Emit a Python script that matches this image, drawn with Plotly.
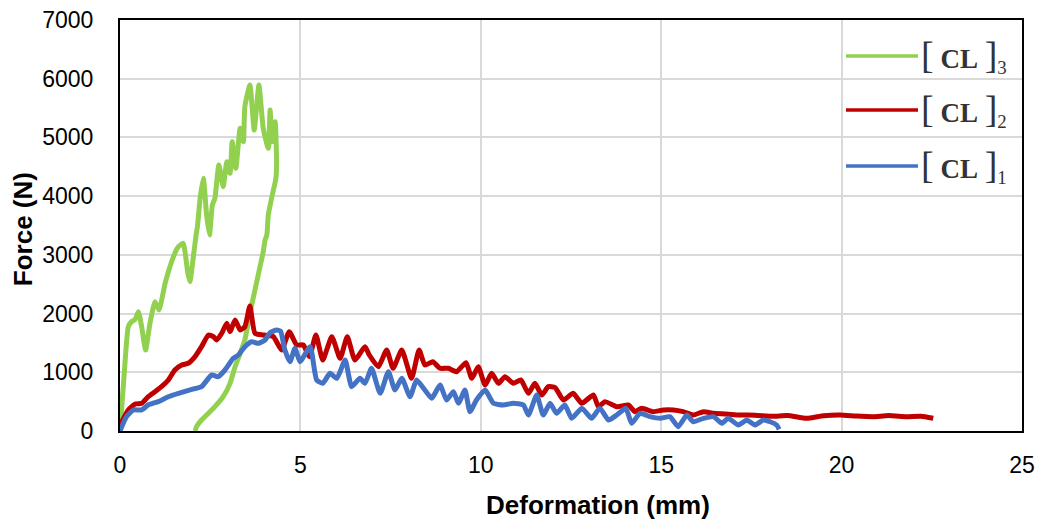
import plotly.graph_objects as go

# ---- data ----
cl3_x = [0, 0.12, 0.23, 0.32, 0.42, 0.51, 0.60, 0.71, 0.83, 0.97, 1.08, 1.25, 1.34, 1.52, 1.62, 1.75,
         1.88, 1.94, 2.00, 2.10, 2.15, 2.22, 2.31, 2.40, 2.48, 2.56, 2.63, 2.74, 2.86, 2.96, 3.05, 3.11,
         3.21, 3.33, 3.42, 3.46, 3.60, 3.72, 3.85, 3.97, 4.11, 4.16, 4.22, 4.30, 4.34, 4.32, 4.20, 4.11,
         4.07, 4.02, 3.97, 3.88, 3.74, 3.60, 3.46, 3.33, 3.19, 3.05, 2.86, 2.63, 2.40, 2.26, 2.12, 2.08]
cl3_y = [0, 1000, 1776, 1862, 1900, 2032, 1776, 1380, 1834, 2202, 2060, 2515, 2713, 3026, 3139, 3196,
         2686, 2543, 2798, 3300, 3500, 3963, 4303, 3678, 3338, 3849, 3963, 4530, 4161, 4586, 4388, 4927,
         4474, 5155, 4927, 5523, 5892, 5126, 5892, 5155, 4814, 5467, 4927, 5267, 4586, 4300, 3963, 3678,
         3338, 3253, 3054, 2798, 2401, 2004, 1550, 1323, 1095, 812, 584, 414, 272, 187, 73, 0]

cl2_x = [0, 0.23, 0.42, 0.60, 0.78, 0.97, 1.15, 1.34, 1.52, 1.71, 1.89, 2.08, 2.26, 2.45, 2.59, 2.68,
         2.82, 2.96, 3.05, 3.19, 3.33, 3.46, 3.60, 3.74, 3.97, 4.25, 4.48, 4.69, 4.90, 5.08, 5.25, 5.43,
         5.62, 5.87, 6.10, 6.30, 6.51, 6.79, 6.91, 7.16, 7.39, 7.57, 7.81, 8.08, 8.29, 8.45, 8.67, 8.87,
         9.10, 9.33, 9.59, 9.75, 9.93, 10.12, 10.30, 10.49, 10.67, 10.90, 11.11, 11.32, 11.50, 11.69,
         11.87, 12.06, 12.29, 12.56, 12.80, 13.12, 13.26, 13.44, 13.77, 14.09, 14.27, 14.46, 14.78,
         15.06, 15.34, 15.61, 15.89, 16.17, 16.45, 16.80, 17.18, 17.60, 18.10, 18.50, 19.03, 19.50,
         19.96, 20.40, 20.88, 21.30, 21.80, 22.20, 22.54]
cl2_y = [100, 358, 460, 471, 584, 670, 755, 869, 1039, 1124, 1153, 1266, 1436, 1635, 1606, 1550,
         1664, 1834, 1691, 1890, 1720, 1776, 2130, 1664, 1635, 1606, 1380, 1691, 1465, 1465, 1266, 1635,
         1209, 1606, 1238, 1606, 1209, 1436, 1294, 1095, 1380, 1068, 1380, 897, 1380, 1124, 1180, 1068,
         1068, 1010, 1163, 897, 1095, 783, 982, 812, 925, 812, 869, 642, 812, 613,
         755, 740, 528, 642, 472, 613, 414, 500, 414, 443, 329, 387, 329,
         358, 358, 329, 272, 329, 301, 290, 272, 270, 250, 265, 216, 260,
         272, 255, 244, 262, 244, 250, 216]

cl1_x = [0, 0.18, 0.37, 0.60, 0.78, 1.06, 1.34, 1.62, 1.99, 2.26, 2.54, 2.72, 2.91, 3.14, 3.28, 3.46,
         3.65, 3.83, 4.02, 4.16, 4.34, 4.45, 4.57, 4.71, 4.85, 4.99, 5.27, 5.45, 5.62, 5.82, 6.01, 6.24,
         6.42, 6.65, 6.79, 6.97, 7.21, 7.44, 7.62, 7.81, 8.04, 8.22, 8.45, 8.64, 8.87, 9.05, 9.24, 9.38,
         9.56, 9.70, 9.88, 10.12, 10.35, 10.62, 10.90, 11.18, 11.32, 11.55, 11.73, 11.92, 12.10, 12.33,
         12.52, 12.80, 13.07, 13.30, 13.54, 13.77, 14.02, 14.18, 14.41, 14.69, 14.97, 15.24, 15.47,
         15.71, 15.89, 16.17, 16.45, 16.68, 16.86, 17.14, 17.37, 17.60, 17.83, 18.02, 18.20, 18.27]
cl1_y = [0, 244, 358, 358, 443, 500, 584, 642, 710, 755, 954, 925, 1039, 1238, 1294, 1436,
         1521, 1493, 1550, 1674, 1720, 1700, 1380, 1180, 1408, 1180, 1436, 869, 812, 982, 897, 1209,
         755, 897, 812, 1068, 642, 1010, 698, 897, 584, 869, 698, 557, 783, 528, 670, 472,
         698, 329, 528, 698, 472, 443, 472, 443, 272, 613, 272, 472, 301, 443,
         216, 387, 216, 387, 187, 272, 387, 131, 301, 244, 216, 244, 73,
         272, 158, 216, 244, 131, 216, 102, 187, 102, 187, 158, 102, 29]

x_ticks = [0, 5, 10, 15, 20, 25]
y_ticks = [0, 1000, 2000, 3000, 4000, 5000, 6000, 7000]
legend_labels = ["3", "2", "1"]

GREEN = "#92D050"
RED = "#C00000"
BLUE = "#4472C4"

fig = go.Figure()
fig.add_trace(go.Scatter(x=cl3_x, y=cl3_y, mode="lines", showlegend=False,
                         line=dict(color=GREEN, width=5, shape="spline", smoothing=0.5)))
fig.add_trace(go.Scatter(x=cl2_x, y=cl2_y, mode="lines", showlegend=False,
                         line=dict(color=RED, width=5, shape="spline", smoothing=0.5)))
fig.add_trace(go.Scatter(x=cl1_x, y=cl1_y, mode="lines", showlegend=False,
                         line=dict(color=BLUE, width=5, shape="spline", smoothing=0.5)))

SANS = "Liberation Sans, Arial, sans-serif"
axis_font = dict(family=SANS, size=23, color="#000")

fig.update_layout(
    width=1038, height=520,
    margin=dict(l=120, r=16, t=20, b=89, autoexpand=False),
    paper_bgcolor="white", plot_bgcolor="white",
    xaxis=dict(range=[0, 25], tickvals=x_ticks, showgrid=True, gridcolor="#D9D9D9", gridwidth=2,
               showline=True, linecolor="black", linewidth=2, mirror=True, zeroline=False,
               tickfont=axis_font, ticks="", ticklabelstandoff=12, automargin=False),
    yaxis=dict(range=[0, 7000], tickvals=y_ticks, showgrid=True, gridcolor="#D9D9D9", gridwidth=2,
               showline=True, linecolor="black", linewidth=2, mirror=True, zeroline=False,
               tickfont=axis_font, ticks="", ticklabelstandoff=20, automargin=False),
)

# axis titles
fig.add_annotation(text="<b>Deformation (mm)</b>", xref="paper", yref="paper", x=0.53, y=-0.18,
                   xanchor="center", yanchor="middle", showarrow=False,
                   font=dict(family=SANS, size=26, color="#000"))
fig.add_annotation(text="<b>Force (N)</b>", xref="paper", yref="paper", x=-0.108, y=0.49,
                   xanchor="center", yanchor="middle", showarrow=False, textangle=-90,
                   font=dict(family=SANS, size=26, color="#000"))

# legend drawn manually
legend_colors = [GREEN, RED, BLUE]
legend_ypx = [56, 110, 166]
for sub, col, ypx in zip(legend_labels, legend_colors, legend_ypx):
    yp = 1 - (ypx - 20) / 411.0
    fig.add_shape(type="line", xref="paper", yref="paper",
                  x0=(846 - 120) / 902.0, x1=(918 - 120) / 902.0, y0=yp, y1=yp,
                  line=dict(color=col, width=3.5))
    fig.add_annotation(
        text="<span style='font-size:38px'>[</span> <b>CL</b> <span style='font-size:38px'>]</span><sub>" + sub + "</sub>",
        xref="paper", yref="paper", x=(919 - 120) / 902.0, y=yp, xanchor="left", yanchor="middle",
        showarrow=False, font=dict(family="Liberation Serif, Times New Roman, serif", size=27, color="#333"))

fig.write_html("out.html", config={"displayModeBar": False},
               post_script="document.body.style.margin='0';")
